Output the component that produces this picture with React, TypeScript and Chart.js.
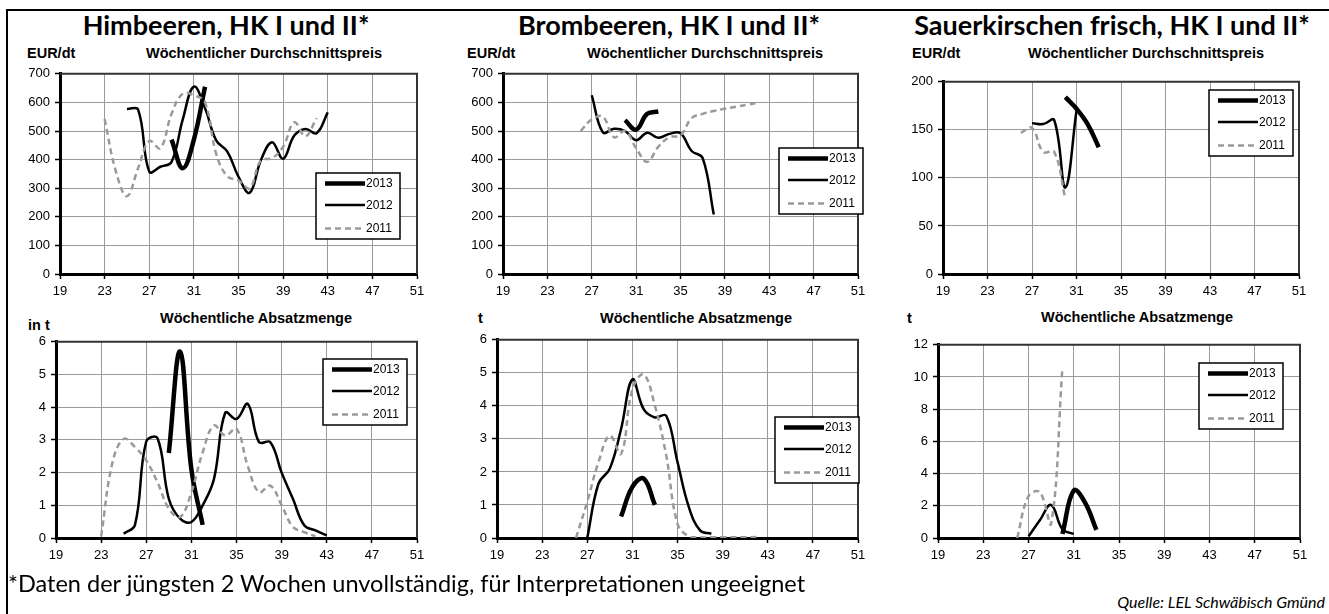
import React, { useEffect, useRef } from "react";
import { Chart, registerables } from "chart.js";
Chart.register(...registerables);

// ---------- DATA ----------
// Himbeeren – Preis (EUR/dt)
const himPriceWeeks2013 = [29, 30, 31, 32];
const himPrice2013 = [470, 370, 470, 655];
const himPriceWeeks2012 = [25, 26, 27, 28, 29, 30, 31, 32, 33, 34, 35, 36, 37, 38, 39, 40, 41, 42, 43];
const himPrice2012 = [577, 575, 358, 375, 392, 540, 655, 580, 467, 428, 340, 284, 397, 461, 403, 484, 507, 492, 565];
const himPriceWeeks2011 = [23, 24, 25, 26, 27, 28, 29, 30, 31, 32, 33, 34, 35, 36, 37, 38, 39, 40, 41, 42];
const himPrice2011 = [542, 360, 272, 370, 465, 440, 560, 630, 625, 600, 420, 341, 327, 300, 397, 405, 445, 530, 482, 545];

// Brombeeren – Preis (EUR/dt)
const bromPriceWeeks2013 = [30, 31, 32, 33];
const bromPrice2013 = [538, 505, 560, 568];
const bromPriceWeeks2012 = [27, 28, 29, 30, 31, 32, 33, 34, 35, 36, 37, 38];
const bromPrice2012 = [625, 495, 508, 500, 468, 494, 476, 490, 492, 430, 405, 208];
const bromPriceWeeks2011 = [26, 27, 28, 29, 30, 31, 32, 33, 34, 35, 36, 37, 38, 39, 40, 41, 42];
const bromPrice2011 = [500, 540, 550, 478, 500, 440, 392, 445, 478, 485, 545, 560, 570, 578, 585, 592, 598];

// Sauerkirschen – Preis (EUR/dt)
const sauerPriceWeeks2013 = [30, 31, 32, 33];
const sauerPrice2013 = [184, 172, 156, 132];
const sauerPriceWeeks2012 = [27, 28, 29, 30, 31];
const sauerPrice2012 = [157, 156, 160, 90, 170];
const sauerPriceWeeks2011 = [26, 27, 28, 29, 30];
const sauerPrice2011 = [147, 152, 127, 127, 78];

// Himbeeren – Absatzmenge (t)
const himVolWeeks2013 = [29, 30, 31, 32];
const himVol2013 = [2.6, 5.7, 2.1, 0.4];
const himVolWeeks2012 = [25, 26, 27, 28, 29, 30, 31, 32, 33, 34, 35, 36, 37, 38, 39, 40, 41, 42, 43];
const himVol2012 = [0.13, 0.4, 2.95, 3.05, 1.2, 0.59, 0.49, 1.0, 1.8, 3.83, 3.64, 4.1, 2.93, 2.93, 2.0, 1.2, 0.39, 0.23, 0.08];
const himVolWeeks2011 = [23, 24, 25, 26, 27, 28, 29, 30, 31, 32, 33, 34, 35, 36, 37, 38, 39, 40, 41, 42];
const himVol2011 = [0.05, 2.3, 3.03, 2.78, 2.37, 1.7, 0.9, 0.64, 1.4, 2.62, 3.44, 3.13, 3.34, 2.2, 1.4, 1.6, 1.0, 0.34, 0.18, 0.05];

// Brombeeren – Absatzmenge (t)
const bromVolWeeks2013 = [30, 31, 32, 33];
const bromVol2013 = [0.65, 1.55, 1.8, 1.0];
const bromVolWeeks2012 = [27, 28, 29, 30, 31, 32, 33, 34, 35, 36, 37, 38];
const bromVol2012 = [0.0, 1.65, 2.1, 3.3, 4.8, 3.9, 3.65, 3.7, 2.3, 0.94, 0.23, 0.13];
const bromVolWeeks2011 = [26, 27, 28, 29, 30, 31, 32, 33, 34, 35, 36, 37, 38, 39, 40, 41, 42];
const bromVol2011 = [0.0, 1.1, 2.3, 3.1, 2.55, 4.5, 4.95, 4.0, 2.5, 0.43, 0.05, 0.02, 0.02, 0.02, 0.02, 0.02, 0.03];

// Sauerkirschen – Absatzmenge (t)
const sauerVolWeeks2013 = [30, 31, 32, 33];
const sauerVol2013 = [0.25, 2.95, 2.2, 0.5];
const sauerVolWeeks2012 = [27, 28, 29, 30, 31];
const sauerVol2012 = [0.1, 1.1, 2.05, 0.55, 0.25];
const sauerVolWeeks2011 = [26, 27, 28, 29, 30];
const sauerVol2011 = [0.0, 2.6, 2.85, 0.9, 10.6];

// Labels
const seriesLabels = ["2013", "2012", "2011"];
const weekTicks = [19, 23, 27, 31, 35, 39, 43, 47, 51];
const fruitTitles = ["Himbeeren, HK I und II*", "Brombeeren, HK I und II*", "Sauerkirschen frisch, HK I und II*"];
const priceSubtitle = "Wöchentlicher Durchschnittspreis";
const volumeSubtitle = "Wöchentliche Absatzmenge";
const priceUnit = "EUR/dt";
const volumeUnits = ["in t", "t", "t"];
const footnote = "*Daten der jüngsten 2 Wochen unvollständig, für Interpretationen ungeeignet";
const sourceText = "Quelle: LEL Schwäbisch Gmünd";

// ---------- STYLES ----------
const lineStyles = [
  { color: "#000000", width: 4.5, dash: [] as number[] },
  { color: "#000000", width: 2.5, dash: [] as number[] },
  { color: "#9a9a9a", width: 2.5, dash: [6, 4] },
];

const AX_FONT = "'Liberation Sans', Arial, sans-serif";
const TITLE_FONT = "Lato, 'Open Sans', sans-serif";

type PanelDef = {
  plot: [number, number, number, number]; // l, t, r, b page coords
  yMax: number;
  yStep: number;
  series: { weeks: number[]; values: number[] }[];
  legend: [number, number]; // page coords top-left
};

const panels: PanelDef[] = [
  {
    plot: [60, 73, 417, 274], yMax: 700, yStep: 100, legend: [316, 173],
    series: [
      { weeks: himPriceWeeks2013, values: himPrice2013 },
      { weeks: himPriceWeeks2012, values: himPrice2012 },
      { weeks: himPriceWeeks2011, values: himPrice2011 },
    ],
  },
  {
    plot: [503, 73, 858, 274], yMax: 700, yStep: 100, legend: [779, 148],
    series: [
      { weeks: bromPriceWeeks2013, values: bromPrice2013 },
      { weeks: bromPriceWeeks2012, values: bromPrice2012 },
      { weeks: bromPriceWeeks2011, values: bromPrice2011 },
    ],
  },
  {
    plot: [943, 81, 1299, 274], yMax: 200, yStep: 50, legend: [1209, 90],
    series: [
      { weeks: sauerPriceWeeks2013, values: sauerPrice2013 },
      { weeks: sauerPriceWeeks2012, values: sauerPrice2012 },
      { weeks: sauerPriceWeeks2011, values: sauerPrice2011 },
    ],
  },
  {
    plot: [56, 341, 417, 538], yMax: 6, yStep: 1, legend: [323, 359],
    series: [
      { weeks: himVolWeeks2013, values: himVol2013 },
      { weeks: himVolWeeks2012, values: himVol2012 },
      { weeks: himVolWeeks2011, values: himVol2011 },
    ],
  },
  {
    plot: [497, 339, 858, 538], yMax: 6, yStep: 1, legend: [775, 417],
    series: [
      { weeks: bromVolWeeks2013, values: bromVol2013 },
      { weeks: bromVolWeeks2012, values: bromVol2012 },
      { weeks: bromVolWeeks2011, values: bromVol2011 },
    ],
  },
  {
    plot: [938, 344, 1300, 538], yMax: 12, yStep: 2, legend: [1199, 363],
    series: [
      { weeks: sauerVolWeeks2013, values: sauerVol2013 },
      { weeks: sauerVolWeeks2012, values: sauerVol2012 },
      { weeks: sauerVolWeeks2011, values: sauerVol2011 },
    ],
  },
];

const PADL = 46, PADT = 12, PADR = 18, PADB = 34;

function Panel({ p }: { p: PanelDef }) {
  const ref = useRef<HTMLCanvasElement>(null);
  const [l, t, r, b] = p.plot;
  const cLeft = l - PADL;
  const cTop = t - PADT;
  const cW = r - l + PADL + PADR;
  const cH = b - t + PADT + PADB;

  useEffect(() => {
    const framePlugin = {
      id: "frame",
      beforeDatasetsDraw(chart: any) {
        const { ctx, chartArea } = chart;
        ctx.save();
        ctx.strokeStyle = "#333";
        ctx.lineWidth = 2;
        ctx.beginPath();
        ctx.moveTo(chartArea.left, chartArea.top);
        ctx.lineTo(chartArea.right, chartArea.top);
        ctx.lineTo(chartArea.right, chartArea.bottom);
        ctx.stroke();
        ctx.restore();
      },
    };
    const legendPlugin = {
      id: "boxLegend",
      afterDraw(chart: any) {
        const ctx = chart.ctx;
        const x = p.legend[0] - cLeft;
        const y = p.legend[1] - cTop;
        const w = 84, h = 66;
        ctx.save();
        ctx.fillStyle = "#fff";
        ctx.fillRect(x, y, w, h);
        ctx.strokeStyle = "#000";
        ctx.lineWidth = 1.5;
        ctx.strokeRect(x, y, w, h);
        const rows = [10.5, 32, 55.5];
        seriesLabels.forEach((lab, i) => {
          const st = lineStyles[i];
          const yy = y + rows[i];
          ctx.beginPath();
          ctx.setLineDash(st.dash);
          ctx.strokeStyle = st.color;
          ctx.lineWidth = st.width;
          ctx.lineCap = "butt";
          ctx.moveTo(x + 9, yy);
          ctx.lineTo(x + 49, yy);
          ctx.stroke();
          ctx.setLineDash([]);
          ctx.fillStyle = "#000";
          ctx.font = `12px ${AX_FONT}`;
          ctx.textBaseline = "middle";
          ctx.textAlign = "left";
          ctx.fillText(lab, x + 50, yy + 0.5);
        });
        ctx.restore();
      },
    };

    const chart = new Chart(ref.current!, {
      type: "line",
      data: {
        datasets: p.series.map((s, i) => ({
          label: seriesLabels[i],
          data: s.weeks.map((w, k) => ({ x: w, y: s.values[k] })),
          borderColor: lineStyles[i].color,
          borderWidth: lineStyles[i].width,
          borderDash: lineStyles[i].dash,
          borderCapStyle: "butt",
          borderJoinStyle: "round",
          pointRadius: 0,
          tension: 0.4,
          fill: false,
        })).reverse() as any,
      },
      options: {
        responsive: false,
        animation: false,
        layout: { padding: { top: PADT, right: PADR, left: 0, bottom: 0 } },
        plugins: { legend: { display: false }, tooltip: { enabled: false } },
        scales: {
          x: {
            type: "linear",
            min: 19,
            max: 51,
            afterBuildTicks: (s: any) => { s.ticks = weekTicks.map((v) => ({ value: v })); },
            ticks: { color: "#000", font: { family: AX_FONT, size: 13 }, padding: 5, maxRotation: 0, autoSkip: false },
            grid: { color: "#9a9a9a", lineWidth: 1, tickLength: 5, tickColor: "#000", tickWidth: 1.5 },
            border: { color: "#000", width: 3 },
            afterFit: (s: any) => { s.height = PADB; },
          },
          y: {
            type: "linear",
            min: 0,
            max: p.yMax,
            ticks: { stepSize: p.yStep, color: "#000", font: { family: AX_FONT, size: 13 }, padding: 5 },
            grid: { color: "#9a9a9a", lineWidth: 1, tickLength: 5, tickColor: "#000", tickWidth: 1.5 },
            border: { color: "#000", width: 3 },
            afterFit: (s: any) => { s.width = PADL; },
          },
        },
      } as any,
      plugins: [framePlugin, legendPlugin],
    });
    return () => chart.destroy();
  }, []);

  return (
    <canvas
      ref={ref}
      width={cW}
      height={cH}
      style={{ position: "absolute", left: cLeft, top: cTop, width: cW, height: cH }}
    />
  );
}

function Txt({ x, y, text, size, family, weight = "normal", style = "normal", align = "center", w = 400 }: any) {
  // y = approximate vertical center of text
  const left = align === "center" ? x - w / 2 : align === "right" ? x - w : x;
  return (
    <div
      style={{
        position: "absolute",
        left,
        top: y - 20,
        width: w,
        height: 40,
        fontFamily: family,
        fontSize: size,
        fontWeight: weight,
        fontStyle: style,
        lineHeight: "40px",
        textAlign: align,
        color: "#000",
        whiteSpace: "nowrap",
      }}
    >
      {text}
    </div>
  );
}

export default function App() {
  const T = { size: 27, family: TITLE_FONT, weight: "bold" };
  const S = { size: 14.5, family: AX_FONT, weight: "bold" };
  return (
    <div style={{ position: "absolute", left: 0, top: 0, width: 1329, height: 614, overflow: "hidden", background: "#fff" }}>
      <div style={{ position: "absolute", left: 6, top: 9, width: 1340, height: 620, border: "2px solid #000" }} />
      <Txt x={226} y={25} text={fruitTitles[0]} {...T} />
      <Txt x={669} y={25} text={fruitTitles[1]} {...T} />
      <Txt x={1112} y={25} text={fruitTitles[2]} {...T} />

      <Txt x={264} y={53} text={priceSubtitle} {...S} />
      <Txt x={705} y={53} text={priceSubtitle} {...S} />
      <Txt x={1146} y={53} text={priceSubtitle} {...S} />
      <Txt x={27} y={53} text={priceUnit} {...S} align="left" />
      <Txt x={467} y={53} text={priceUnit} {...S} align="left" />
      <Txt x={912} y={53} text={priceUnit} {...S} align="left" />

      <Txt x={256} y={318} text={volumeSubtitle} {...S} />
      <Txt x={696} y={318} text={volumeSubtitle} {...S} />
      <Txt x={1137} y={317} text={volumeSubtitle} {...S} />
      <Txt x={28} y={325} text={volumeUnits[0]} {...S} align="left" />
      <Txt x={478} y={318} text={volumeUnits[1]} {...S} align="left" />
      <Txt x={907} y={318} text={volumeUnits[2]} {...S} align="left" />

      {panels.map((p, i) => (
        <Panel key={i} p={p} />
      ))}

      <Txt x={8} y={583} text={footnote} size={23.5} family={TITLE_FONT} align="left" w={900} />
      <Txt x={1325} y={602} text={sourceText} size={16} family={TITLE_FONT} style="italic" align="right" w={400} />
    </div>
  );
}
